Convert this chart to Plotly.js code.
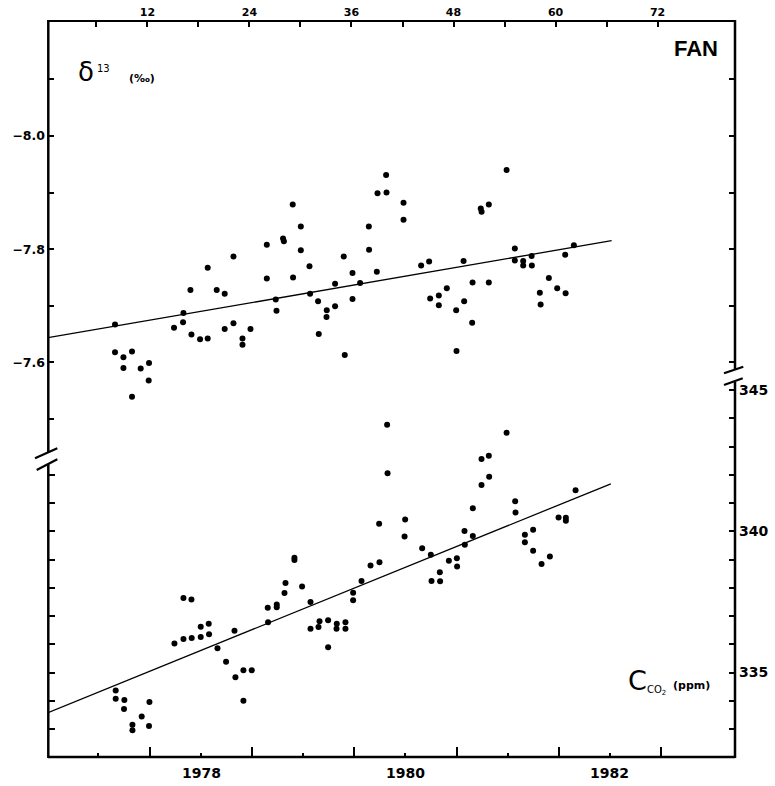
<!DOCTYPE html>
<html>
<head>
<meta charset="utf-8">
<script src="https://cdn.plot.ly/plotly-3.0.1.min.js"></script>
<style>html,body{margin:0;padding:0;background:#fff;}#chart{width:775px;height:786px;}</style>
</head>
<body>
<div id="chart"></div>
<script>
// ---- data (x in months from the start of the record, as on the top axis) ----
const d13Month = [8.19, 8.19, 9.18, 10.19, 9.18, 11.21, 12.19, 12.15, 10.19, 15.13, 16.19, 16.24, 17.06, 17.18, 18.19, 19.09, 19.09, 20.15, 21.09, 21.09, 22.12, 22.12, 23.18, 23.18, 24.12, 26.04, 26.04, 27.09, 27.18, 27.95, 28.05, 29.09, 29.13, 30.04, 30.04, 31.06, 31.13, 32.07, 32.15, 33.09, 33.06, 34.07, 34.07, 35.09, 35.21, 36.12, 36.12, 37.01, 38.04, 38.07, 38.98, 39.06, 40.07, 40.12, 42.12, 42.12, 44.19, 45.13, 45.25, 46.27, 46.27, 47.21, 48.31, 48.35, 49.18, 49.25, 50.24, 50.19, 51.2, 51.3, 52.15, 52.15, 54.24, 55.21, 55.21, 56.19, 56.19, 57.18, 57.21, 58.15, 58.24, 59.21, 60.19, 61.13, 61.18, 62.15];
const d13Value = [-7.667, -7.618, -7.609, -7.619, -7.590, -7.589, -7.599, -7.568, -7.539, -7.661, -7.671, -7.687, -7.728, -7.649, -7.641, -7.642, -7.767, -7.728, -7.721, -7.659, -7.669, -7.787, -7.642, -7.631, -7.659, -7.808, -7.748, -7.711, -7.691, -7.819, -7.814, -7.879, -7.750, -7.840, -7.798, -7.770, -7.721, -7.708, -7.650, -7.692, -7.680, -7.739, -7.699, -7.787, -7.613, -7.758, -7.712, -7.740, -7.840, -7.799, -7.760, -7.899, -7.931, -7.900, -7.882, -7.852, -7.771, -7.778, -7.713, -7.718, -7.701, -7.731, -7.692, -7.620, -7.779, -7.708, -7.741, -7.670, -7.872, -7.866, -7.879, -7.741, -7.940, -7.801, -7.780, -7.779, -7.771, -7.788, -7.771, -7.723, -7.702, -7.749, -7.731, -7.790, -7.722, -7.807];
const d13TrendMonth = [0.31, 66.59];
const d13TrendValue = [-7.6435, -7.815];

const co2Month = [40.19, 40.24, 39.25, 38.24, 39.29, 37.18, 36.19, 36.19, 31.18, 30.19, 29.29, 29.29, 28.24, 28.12, 27.21, 27.21, 26.15, 26.19, 31.18, 32.12, 32.24, 33.25, 33.25, 34.27, 34.24, 35.29, 35.29, 22.24, 20.24, 21.25, 22.35, 23.29, 24.27, 23.29, 16.24, 17.18, 15.18, 16.24, 17.21, 18.27, 18.27, 19.21, 19.25, 8.27, 8.27, 9.29, 9.25, 10.24, 10.24, 11.33, 12.24, 12.19, 42.31, 42.24, 44.31, 45.33, 45.41, 46.39, 46.42, 47.45, 48.39, 48.42, 49.29, 49.33, 50.27, 50.27, 51.29, 51.29, 52.15, 52.19, 54.24, 55.25, 55.29, 56.39, 56.39, 57.36, 57.36, 58.35, 59.33, 60.35, 61.21, 61.21, 62.35];
const co2Value = [343.77, 342.05, 340.27, 338.79, 338.90, 338.24, 337.82, 337.56, 337.50, 338.04, 339.06, 338.98, 338.17, 337.81, 337.41, 337.31, 337.29, 336.78, 336.55, 336.61, 336.81, 336.85, 335.89, 336.73, 336.55, 336.78, 336.55, 336.48, 335.86, 335.38, 334.83, 335.08, 335.08, 334.00, 337.64, 337.58, 336.03, 336.19, 336.22, 336.62, 336.26, 336.73, 336.35, 334.36, 334.07, 334.03, 333.71, 333.15, 332.96, 333.44, 333.96, 333.11, 340.42, 339.81, 339.40, 339.17, 338.24, 338.55, 338.23, 338.96, 339.04, 338.75, 340.01, 339.52, 339.83, 340.81, 341.64, 342.56, 342.67, 341.93, 343.49, 341.06, 340.66, 339.88, 339.61, 340.05, 339.31, 338.84, 339.11, 340.49, 340.48, 340.37, 341.45];
const co2TrendMonth = [0.31, 66.5];
const co2TrendValue = [333.58, 341.68];

// ---- tick labels ----
const topTickVals = [6, 12, 18, 24, 30, 36, 42, 48, 54, 60, 66, 72];
const topTickText = ['', '12', '', '24', '', '36', '', '48', '', '60', '', '72'];
const yearLabelMonths = [6.2, 18.35, 30.35, 42.35, 54.35, 66.35];
const yearLabelText = ['', '1978', '', '1980', '', '1982'];
const d13TickVals = [-8.1, -8.0, -7.9, -7.8, -7.7, -7.6, -7.5];
const d13TickText = ['', '\u22128.0', '', '\u22127.8', '', '\u22127.6', ''];
const d13RightTickVals = [-8.1, -8.0, -7.9, -7.8, -7.7, -7.6];
const co2LeftTickVals = [333, 334, 335, 336, 337, 338, 339, 340, 341, 342];
const co2RightTickVals = [333, 334, 335, 336, 337, 338, 339, 340, 341, 342, 343, 344, 345];
const co2RightTickText = ['', '', '335', '', '', '', '', '340', '', '', '', '', '345'];

// ---- geometry helpers (pixels -> paper) ----
const L = 48, R = 40, T = 21, B = 29, W = 775, H = 786;
const PW = W - L - R, PH = H - T - B;
const px = x => (x - L) / PW;
const py = y => (H - B - y) / PH;

const xRange = [0.31, 81.1];
const d13Range = [-6.9024, -8.2033];
const co2Range = [332.009, 358.062];

const numFont = {family: 'DejaVu Sans', size: 12, color: '#000', weight: 'bold'};

const dot = {color: '#000', size: 6};
const traces = [
  {x: d13Month, y: d13Value, xaxis: 'x', yaxis: 'y', mode: 'markers', type: 'scatter', marker: dot, hoverinfo: 'skip'},
  {x: d13TrendMonth, y: d13TrendValue, xaxis: 'x', yaxis: 'y', mode: 'lines', type: 'scatter', line: {color: '#000', width: 1.3}, hoverinfo: 'skip'},
  {x: co2Month, y: co2Value, xaxis: 'x', yaxis: 'y4', mode: 'markers', type: 'scatter', marker: dot, hoverinfo: 'skip'},
  {x: co2TrendMonth, y: co2TrendValue, xaxis: 'x', yaxis: 'y4', mode: 'lines', type: 'scatter', line: {color: '#000', width: 1.3}, hoverinfo: 'skip'},
  // invisible carriers so the overlaid tick-only axes are drawn
  {x: d13Month, y: d13Value, xaxis: 'x2', yaxis: 'y2', mode: 'markers', type: 'scatter', marker: {size: 1, opacity: 0}, hoverinfo: 'skip'},
  {x: co2Month, y: co2Value, xaxis: 'x', yaxis: 'y3', mode: 'markers', type: 'scatter', marker: {size: 1, opacity: 0}, hoverinfo: 'skip'}
];

function seg(x0, y0, x1, y1, w) {
  return {type: 'line', xref: 'paper', yref: 'paper', x0: px(x0), y0: py(y0), x1: px(x1), y1: py(y1),
          line: {color: '#000', width: w}, layer: 'above'};
}
const shapes = [
  seg(48, 21, 735, 21, 2),          // top frame
  seg(48, 757, 735, 757, 2.5),      // bottom frame
  seg(48.3, 20, 48.3, 452, 2.5),    // left, upper part
  seg(48.3, 464, 48.3, 758, 2.5),   // left, lower part
  seg(35, 458.3, 57.3, 448.3, 2.2), // left break marks
  seg(36.7, 470, 57.3, 459.3, 2.2),
  seg(735, 20, 735, 370, 2.5),      // right, upper part
  seg(735, 382, 735, 758, 2.5),     // right, lower part
  seg(724, 373.3, 743.3, 366.7, 2.2), // right break marks
  seg(724, 385, 742.7, 378.3, 2.2)
];

function ann(text, x, y, font, xanchor) {
  return {text: text, xref: 'paper', yref: 'paper', x: px(x), y: py(y), xanchor: xanchor || 'center', yanchor: 'middle',
          showarrow: false, font: font};
}
const annotations = [
  ann('\u03b4', 86, 72, {family: 'DejaVu Sans', size: 26, color: '#000'}),
  ann('13', 103, 68, {family: 'DejaVu Sans', size: 10, color: '#000'}),
  ann('(\u2030)', 141.5, 79, {family: 'DejaVu Sans', size: 11, color: '#000', weight: 'bold'}),
  ann('FAN', 695.5, 48, {family: 'Liberation Sans', size: 22, color: '#000', weight: 'bold'}),
  ann('C', 637, 680, {family: 'DejaVu Sans', size: 27, color: '#000'}),
  ann('CO<sub>2</sub>', 656, 690, {family: 'DejaVu Sans', size: 10, color: '#000'}),
  ann('(ppm)', 691, 685, {family: 'DejaVu Sans', size: 11, color: '#000', weight: 'bold'})
];

const layout = {
  width: W, height: H,
  margin: {l: L, r: R, t: T, b: B, pad: 0},
  paper_bgcolor: '#fff', plot_bgcolor: '#fff',
  showlegend: false, hovermode: false,
  xaxis: {
    range: xRange, showgrid: false, zeroline: false, showline: false,
    tickmode: 'array', tickvals: yearLabelMonths, ticktext: yearLabelText,
    ticks: 'inside', ticklen: 4.5, tickwidth: 2, tickcolor: '#000',
    tickfont: Object.assign({}, numFont, {size: 14}), ticklabelstandoff: 6,
    minor: {tickmode: 'linear', tick0: 0.35, dtick: 12, ticks: 'inside', ticklen: 10, tickwidth: 2, tickcolor: '#000', showgrid: false}
  },
  xaxis2: {
    overlaying: 'x', side: 'top', anchor: 'y', range: xRange,
    showgrid: false, zeroline: false, showline: false,
    tickmode: 'array', tickvals: topTickVals, ticktext: topTickText,
    ticks: 'inside', ticklen: 6, tickwidth: 2, tickcolor: '#000',
    tickfont: Object.assign({}, numFont, {size: 11}), ticklabelstandoff: 2
  },
  yaxis: {
    range: d13Range, side: 'left', showgrid: false, zeroline: false, showline: false,
    tickmode: 'array', tickvals: d13TickVals, ticktext: d13TickText,
    ticks: 'inside', ticklen: 6, tickwidth: 2, tickcolor: '#000',
    tickfont: Object.assign({}, numFont, {size: 12.5}), ticklabelstandoff: 2
  },
  yaxis2: {
    overlaying: 'y', side: 'right', anchor: 'x', range: d13Range,
    showgrid: false, zeroline: false, showline: false,
    tickmode: 'array', tickvals: d13RightTickVals, ticktext: d13RightTickVals.map(() => ''),
    ticks: 'inside', ticklen: 6, tickwidth: 2, tickcolor: '#000'
  },
  yaxis3: {
    overlaying: 'y', side: 'left', anchor: 'x', range: co2Range,
    showgrid: false, zeroline: false, showline: false,
    tickmode: 'array', tickvals: co2LeftTickVals, ticktext: co2LeftTickVals.map(() => ''),
    ticks: 'inside', ticklen: 7, tickwidth: 2, tickcolor: '#000'
  },
  yaxis4: {
    overlaying: 'y', side: 'right', anchor: 'x', range: co2Range,
    showgrid: false, zeroline: false, showline: false,
    tickmode: 'array', tickvals: co2RightTickVals, ticktext: co2RightTickText,
    ticks: 'inside', ticklen: 6, tickwidth: 2, tickcolor: '#000',
    tickfont: Object.assign({}, numFont, {size: 14}), ticklabelstandoff: 3
  },
  shapes: shapes,
  annotations: annotations
};

Plotly.newPlot('chart', traces, layout, {staticPlot: true, displayModeBar: false});
</script>
</body>
</html>
